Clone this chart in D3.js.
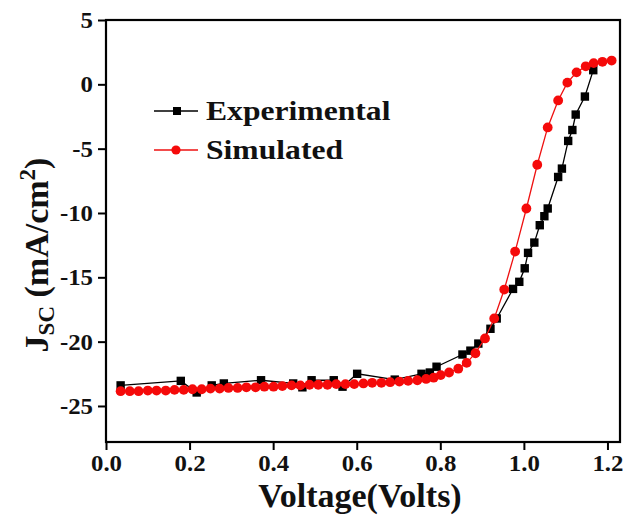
<!DOCTYPE html>
<html>
<head>
<meta charset="utf-8">
<script src="https://cdn.jsdelivr.net/npm/d3@7"></script>
<style>
  html, body { margin: 0; padding: 0; background: #fff; }
  svg { display: block; }
</style>
</head>
<body>
<div id="chart"></div>
<script>
// Experimental J-V points (black squares)
const expVoltage = [0.035, 0.179, 0.217, 0.253, 0.282, 0.371, 0.448, 0.470, 0.492, 0.545,
  0.566, 0.601, 0.691, 0.755, 0.775, 0.791, 0.853, 0.872, 0.891, 0.920,
  0.935, 0.974, 0.989, 1.002, 1.010, 1.025, 1.038, 1.049, 1.057, 1.082,
  1.091, 1.106, 1.116, 1.124, 1.146, 1.166];
const expCurrent = [-23.4, -23.05, -23.95, -23.4, -23.25, -23.0, -23.25, -23.55, -23.0, -23.0,
  -23.5, -22.5, -22.95, -22.5, -22.4, -21.95, -21.0, -20.7, -20.15, -19.0,
  -18.2, -15.9, -15.35, -14.3, -13.1, -12.3, -10.95, -10.25, -9.65, -7.2,
  -6.55, -4.4, -3.55, -2.35, -0.95, 1.1];

// Simulated J-V points (red circles)
const simVoltage = [0.035, 0.057, 0.078, 0.100, 0.121, 0.143, 0.164, 0.186, 0.207, 0.229,
  0.250, 0.272, 0.293, 0.315, 0.336, 0.358, 0.379, 0.401, 0.422, 0.444,
  0.465, 0.487, 0.508, 0.530, 0.551, 0.573, 0.594, 0.616, 0.637, 0.659,
  0.680, 0.702, 0.723, 0.745, 0.766, 0.784, 0.801, 0.821, 0.843, 0.863,
  0.884, 0.907, 0.929, 0.953, 0.979, 1.006, 1.032, 1.057, 1.082, 1.104,
  1.126, 1.148, 1.167, 1.188, 1.210];
const simCurrent = [-23.85, -23.85, -23.85, -23.8, -23.8, -23.8, -23.75, -23.75, -23.7, -23.7,
  -23.65, -23.65, -23.6, -23.6, -23.55, -23.55, -23.5, -23.5, -23.45, -23.4,
  -23.4, -23.35, -23.35, -23.35, -23.3, -23.3, -23.3, -23.25, -23.2, -23.2,
  -23.15, -23.1, -23.05, -23.0, -22.9, -22.8, -22.6, -22.4, -22.1, -21.65,
  -20.9, -19.75, -18.2, -15.95, -13.0, -9.65, -6.25, -3.35, -1.25, 0.13,
  0.93, 1.4, 1.65, 1.75, 1.85];

const xTicks = [0.0, 0.2, 0.4, 0.6, 0.8, 1.0, 1.2];
const yTicks = [5, 0, -5, -10, -15, -20, -25];
const seriesNames = ["Experimental", "Simulated"];

const W = 626, H = 521;
const margin = { top: 20, right: 6, bottom: 79, left: 106 };
const iW = W - margin.left - margin.right;
const iH = H - margin.top - margin.bottom;
const font = "'Liberation Serif', 'Times New Roman', serif";
const tickStretch = 1.08;   // glyphs in the source look a bit wide
const legStretch = 1.13;

const svg = d3.select("#chart").append("svg")
  .attr("width", W).attr("height", H)
  .style("font-family", font);

const g = svg.append("g").attr("transform", `translate(${margin.left},${margin.top})`);

const x = d3.scaleLinear().domain([0, 1.23]).range([0, iW]);
const y = d3.scaleLinear().domain([-27.8, 5]).range([iH, 0]);

const exp = expVoltage.map((v, i) => ({ v, j: expCurrent[i] }));
const sim = simVoltage.map((v, i) => ({ v, j: simCurrent[i] }));

const line = d3.line().x(d => x(d.v)).y(d => y(d.j));

// experimental
g.append("path").datum(exp)
  .attr("d", line).attr("fill", "none")
  .attr("stroke", "#000").attr("stroke-width", 1.3);
g.selectAll(".sq").data(exp).join("rect")
  .attr("x", d => x(d.v) - 4.2).attr("y", d => y(d.j) - 4.2)
  .attr("width", 8.4).attr("height", 8.4).attr("fill", "#000");

// simulated drawn on top
g.append("path").datum(sim)
  .attr("d", line).attr("fill", "none")
  .attr("stroke", "#ee1111").attr("stroke-width", 1.3);
g.selectAll(".dot").data(sim).join("circle")
  .attr("cx", d => x(d.v)).attr("cy", d => y(d.j))
  .attr("r", 4.9).attr("fill", "#f50a0a");

// frame
g.append("rect").attr("width", iW).attr("height", iH)
  .attr("fill", "none").attr("stroke", "#000").attr("stroke-width", 2.2);

// axes
g.append("g").attr("transform", `translate(0,${iH})`)
  .call(d3.axisBottom(x).tickValues(xTicks).tickFormat(d3.format(".1f")).tickSize(8).tickPadding(5))
  .call(a => a.select(".domain").remove())
  .call(a => a.selectAll("line").attr("stroke", "#000").attr("stroke-width", 2))
  .call(a => a.selectAll("text").attr("font-family", font).attr("font-weight", "bold")
    .attr("font-size", 23).attr("fill", "#111")
    .attr("transform", `scale(${tickStretch},1)`));

g.append("g")
  .call(d3.axisLeft(y).tickValues(yTicks).tickFormat(d3.format("d")).tickSize(8).tickPadding(5))
  .call(a => a.select(".domain").remove())
  .call(a => a.selectAll("line").attr("stroke", "#000").attr("stroke-width", 2))
  .call(a => a.selectAll("text").attr("font-family", font).attr("font-weight", "bold")
    .attr("font-size", 23).attr("fill", "#111")
    .attr("x", -13 / tickStretch).attr("transform", `scale(${tickStretch},1)`)
    .text(d => d < 0 ? "-" + Math.abs(d) : d));

// axis titles
svg.append("text")
  .attr("x", 360).attr("y", 507)
  .attr("text-anchor", "middle").attr("font-weight", "bold").attr("font-size", 34)
  .attr("fill", "#111").text("Voltage(Volts)");

const yt = svg.append("text")
  .attr("transform", `translate(48,${margin.top + iH / 2 + 24}) rotate(-90)`)
  .attr("text-anchor", "middle").attr("font-weight", "bold").attr("font-size", 34)
  .attr("fill", "#111");
yt.append("tspan").text("J");
yt.append("tspan").attr("font-size", 23).attr("dy", 6).text("SC");
yt.append("tspan").attr("dy", -6).text(" (mA/cm");
yt.append("tspan").attr("font-size", 23).attr("dy", -13).text("2");
yt.append("tspan").attr("dy", 13).text(")");

// legend
const legend = [
  { name: seriesNames[0], y: 111, color: "#000", shape: "square" },
  { name: seriesNames[1], y: 150, color: "#ee1111", shape: "circle" }
];
legend.forEach(l => {
  svg.append("line").attr("x1", 154).attr("x2", 198).attr("y1", l.y).attr("y2", l.y)
    .attr("stroke", l.color).attr("stroke-width", 1.3);
  if (l.shape === "square") {
    svg.append("rect").attr("x", 173).attr("y", l.y - 4).attr("width", 8).attr("height", 8).attr("fill", "#000");
  } else {
    svg.append("circle").attr("cx", 176).attr("cy", l.y).attr("r", 4.6).attr("fill", "#f50a0a");
  }
  svg.append("text")
    .attr("transform", `translate(206,${l.y + 9}) scale(${legStretch},1)`)
    .attr("font-weight", "bold").attr("font-size", 28).attr("fill", "#111").text(l.name);
});
</script>
</body>
</html>
